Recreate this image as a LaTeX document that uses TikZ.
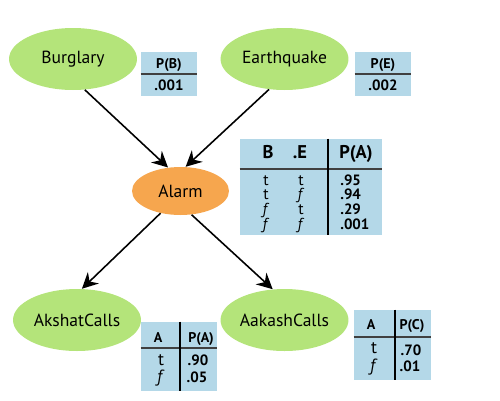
\documentclass[tikz,border=0pt]{standalone}
\usepackage{fontspec}
\setmainfont{PT Sans}
\usetikzlibrary{shapes.geometric, arrows.meta, positioning}
\definecolor{vargreen}{RGB}{180,228,122}
\definecolor{alarmorange}{RGB}{246,166,78}
\definecolor{cptblue}{RGB}{180,216,232}

\tikzset{
  var/.style={ellipse, fill=vargreen, minimum width=2.56cm, minimum height=1.24cm, inner sep=0pt, font=\fontsize{10}{12}\selectfont},
  cpt/.style={rectangle, fill=cptblue, inner sep=0pt},
  cell/.style={inner sep=0pt, text height=1.5ex, text depth=0.3ex},
  head/.style={cell, font=\fontsize{8}{9}\bfseries},
  bighead/.style={cell, font=\fontsize{10.5}{11}\bfseries},
  tval/.style={cell, font=\fontsize{9}{9}\selectfont},
  num/.style={cell, font=\fontsize{8.5}{9}\bfseries},
  hrule/.style={line width=0.9pt, black!75},
  vrule/.style={line width=0.6pt, black},
  link/.style={-{Stealth[length=9pt, width=9pt, inset=3pt]}, line width=0.9pt}
}

\begin{document}
\begin{tikzpicture}[x=0.02cm, y=-0.02cm]
    \useasboundingbox (0,0) rectangle (500,400);

    \node[var] (burglary) at (73,59) {Burglary};
    \node[var] (quake) at (284.5,59) {Earthquake};
    \node[var, fill=alarmorange, minimum width=1.94cm, minimum height=0.96cm] (alarm) at (180.5,191) {Alarm};
    \node[var] (akshat) at (77,320) {AkshatCalls};
    \node[var] (aakash) at (284.5,320) {AakashCalls};

    \draw[link] (burglary.-69) -- (alarm.118);
    \draw[link] (quake.243) -- (alarm.78);
    \draw[link] (alarm.228) -- (akshat.81);
    \draw[link] (alarm.-65) -- (aakash.111);

    % P(B) and P(E)
    \node[cpt, minimum width=1.12cm, minimum height=0.88cm] (cptb) at (169,74) {};
    \draw[hrule] (cptb.west) -- (cptb.east);
    \node[head] (pbh) at (169,63) {P(B)};
    \node[num] (pbv) at (169,85) {.001};

    \node[cpt, minimum width=1.12cm, minimum height=0.88cm] (cpte) at (383,74) {};
    \draw[hrule] (cpte.west) -- (cpte.east);
    \node[head] (peh) at (383,63) {P(E)};
    \node[num] (pev) at (383,85) {.002};

    % P(A | B, E)
    \node[cpt, minimum width=2.84cm, minimum height=1.92cm] (cpta) at (311,187) {};
    \draw[hrule] (cpta.west |- 0,169) -- (cpta.east |- 0,169);
    \draw[vrule] (cpta.north -| 328,0) -- (cpta.south -| 328,0);
    \node[bighead] (hb) at (268,153) {B};
    \node[bighead] (he) at (300,153) {.E};
    \node[bighead] (hpa) at (356,153) {P(A)};
    \foreach \b/\e/\p [count=\i] in {t/t/.95, t/\textit{f}/.94, \textit{f}/t/.29, \textit{f}/\textit{f}/.001}{
      \node[tval] (ab\i) at (266,165.3+14.7*\i) {\b};
      \node[tval] (ae\i) at (301,165.3+14.7*\i) {\e};
      \node[num, anchor=west] (ap\i) at (340,165.3+14.7*\i) {\p};
    }

    % AkshatCalls
    \node[cpt, minimum width=1.52cm, minimum height=1.38cm] (cptk) at (179,356.5) {};
    \draw[hrule] (cptk.west |- 0,348) -- (cptk.east |- 0,348);
    \draw[vrule] (cptk.north -| 180,0) -- (cptk.south -| 180,0);
    \node[head] (kha) at (158,337) {A};
    \node[head] (khp) at (201,337) {P(A)};
    \node[tval, font=\fontsize{10}{10}\selectfont] (kt) at (161,360) {t};
    \node[tval, font=\fontsize{10}{10}\selectfont] (kf) at (161,377) {\textit{f}};
    \node[num] (ktv) at (198,360) {.90};
    \node[num] (kfv) at (197,377) {.05};

    % AakashCalls
    \node[cpt, minimum width=1.54cm, minimum height=1.40cm] (cptc) at (392.5,345) {};
    \draw[hrule] (cptc.west |- 0,337) -- (cptc.east |- 0,337);
    \draw[vrule] (cptc.north -| 395,0) -- (cptc.south -| 395,0);
    \node[head] (cha) at (371,324) {A};
    \node[head] (chp) at (412,324) {P(C)};
    \node[tval, font=\fontsize{10}{10}\selectfont] (ct) at (374,348) {t};
    \node[tval, font=\fontsize{10}{10}\selectfont] (cf) at (374,366) {\textit{f}};
    \node[num] (ctv) at (411,350) {.70};
    \node[num] (cfv) at (410,366) {.01};
\end{tikzpicture}
\end{document}
